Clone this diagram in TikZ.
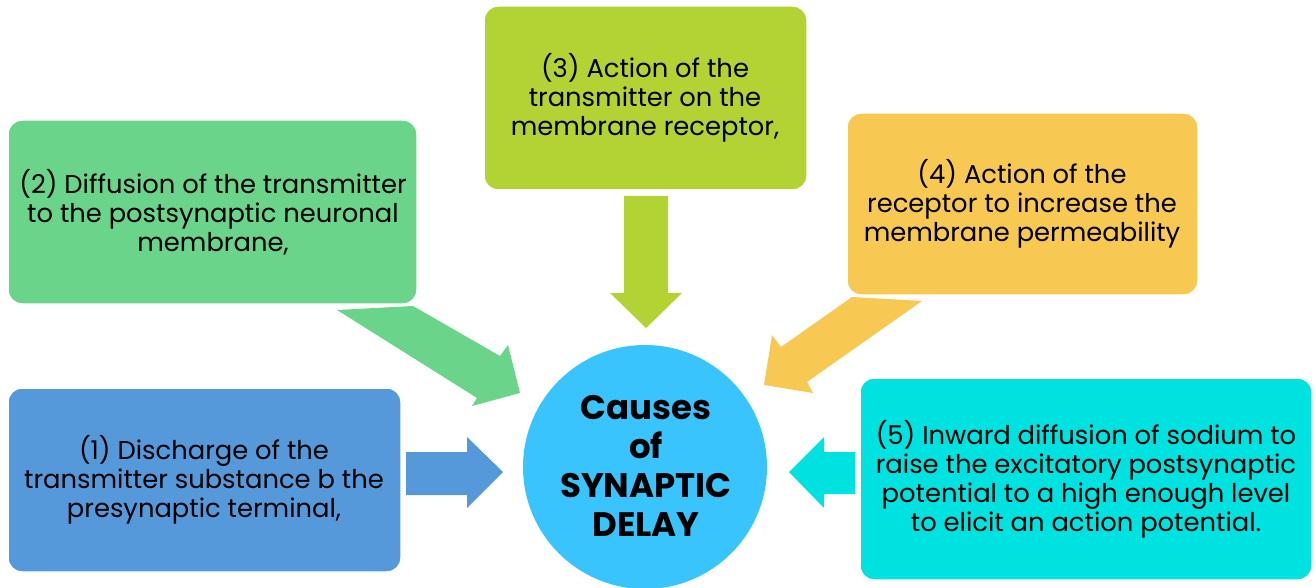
\documentclass[tikz,border=0pt]{standalone}
\usepackage{fontspec}
\setmainfont{Poppins}
\definecolor{cgreen}{HTML}{6AD48A}
\definecolor{clime}{HTML}{B3D334}
\definecolor{corange}{HTML}{F7C952}
\definecolor{cblue}{HTML}{5599DA}
\definecolor{ccyan}{HTML}{00E2E0}
\definecolor{csky}{HTML}{3AC4FD}
\begin{document}
\begin{tikzpicture}[x=1pt,y=-1pt,
  boxstyle/.style={draw=white,line width=1.5pt,rounded corners=14pt},
  boxtext/.style={align=center,inner sep=0pt,font=\fontsize{25.8}{29}\selectfont}]
\useasboundingbox (0,0) rectangle (1315,588);
% arrows (drawn under boxes)
\fill[cgreen] (337,310) -- (413,306) -- (500,356) -- (508,345) -- (520,393) -- (472,406) -- (477,398) -- cycle;
\fill[corange] (852,297) -- (922,301) -- (807,382) -- (813,393) -- (764,385) -- (772,335) -- (781,347) -- cycle;
\fill[clime] (624,196) -- (668,196) -- (668,293) -- (682,293) -- (646,328) -- (610,293) -- (624,293) -- cycle;
\fill[cblue] (406,452) -- (467,452) -- (467,437) -- (503,472) -- (467,508) -- (467,495) -- (406,495) -- cycle;
\fill[ccyan] (855,452) -- (824,452) -- (824,437) -- (789,472) -- (824,508) -- (824,494) -- (855,494) -- cycle;
% boxes
\path[boxstyle,fill=cgreen] (8,120) rectangle (417,304);
\path[boxstyle,fill=clime] (484,6) rectangle (807,190);
\path[boxstyle,fill=corange] (847,113) rectangle (1198,295);
\path[boxstyle,fill=cblue] (8,388) rectangle (401,572);
\path[boxstyle,fill=ccyan] (860,378) rectangle (1312,580);
\node[boxtext] (t2) at (213,212) {(2) Diffusion of the transmitter\\to the postsynaptic neuronal\\membrane,};
\node[boxtext] (t3) at (645,98) {(3) Action of the\\transmitter on the\\membrane receptor,};
\node[boxtext] (t4) at (1022,204) {(4) Action of the\\receptor to increase the\\membrane permeability};
\node[boxtext] (t1) at (204,480) {(1) Discharge of the\\transmitter substance b the\\presynaptic terminal,};
\node[boxtext] (t5) at (1086,479) {(5) Inward diffusion of sodium to\\raise the excitatory postsynaptic\\potential to a high enough level\\to elicit an action potential.};
% circle
\fill[csky] (645,467) circle (122);
\node[align=center,inner sep=0pt,font=\bfseries\fontsize{34}{39}\selectfont] (c) at (646,466) {Causes\\of\\SYNAPTIC\\DELAY};
\end{tikzpicture}
\end{document}
